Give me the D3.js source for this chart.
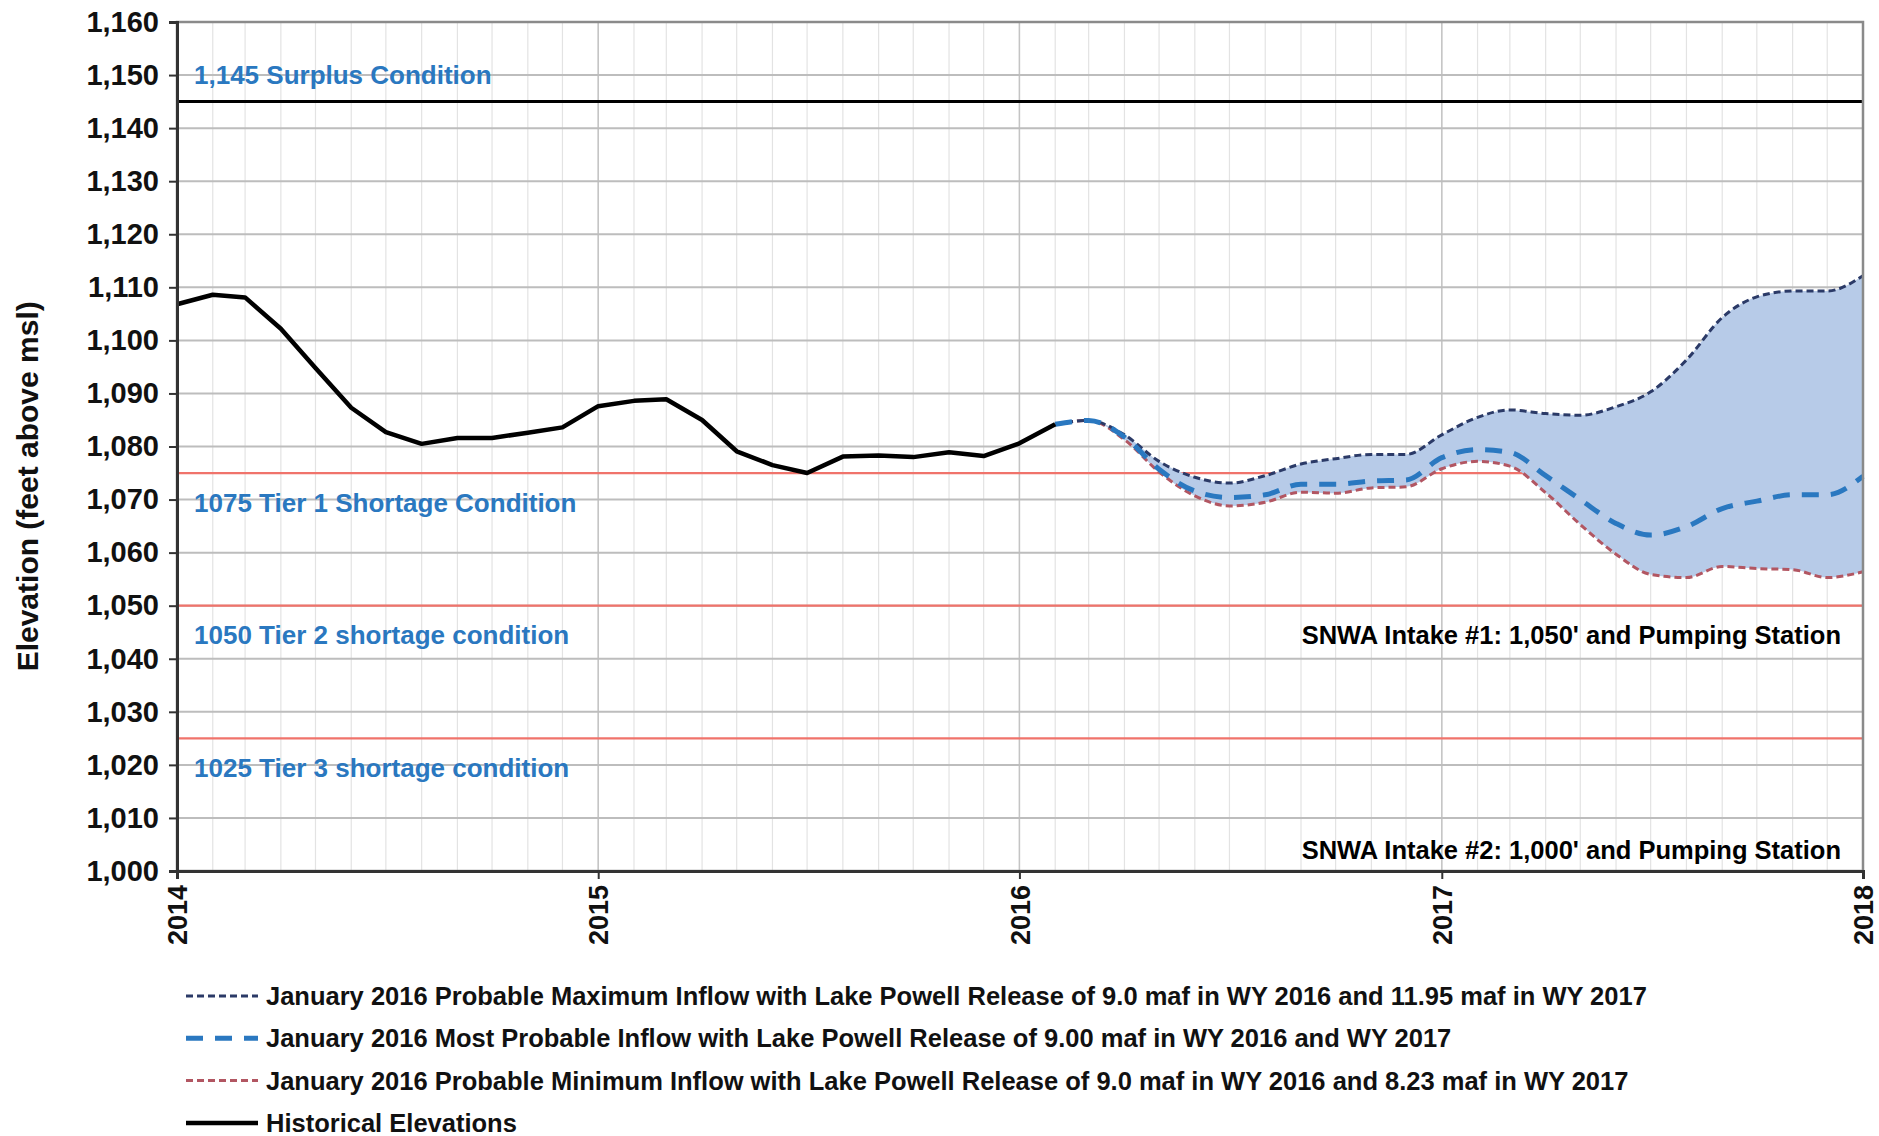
<!DOCTYPE html>
<html>
<head>
<meta charset="utf-8">
<script src="https://cdn.jsdelivr.net/npm/d3@7"></script>
<style>
  body { margin: 0; background: #fff; }
  text { font-family: "Liberation Sans", Arial, sans-serif; font-weight: bold; }
</style>
</head>
<body>
<div id="chart"></div>
<script>
// monthly elevations, feet above msl
var histStart = new Date(2014, 0, 1);
var historical = [1106.8, 1108.6, 1108.1, 1102.2, 1094.8, 1087.3, 1082.7, 1080.5, 1081.6, 1081.6, 1082.6, 1083.6,
                  1087.6, 1088.6, 1088.9, 1085.0, 1079.1, 1076.5, 1075.0, 1078.1, 1078.3, 1078.0, 1078.9, 1078.2,
                  1080.6, 1084.2];

var forecastStart = new Date(2016, 1, 1);
var probMax = [1084.2, 1084.9, 1082.2, 1077.2, 1074.2, 1073.1, 1074.5, 1076.7, 1077.7, 1078.5, 1078.5,
               1082.2, 1085.5, 1086.9, 1086.2, 1085.9, 1087.5, 1090.3, 1096.3, 1104.3, 1108.2, 1109.3, 1109.3, 1112.2];
var mostProb = [1084.2, 1084.9, 1081.8, 1075.7, 1071.6, 1070.4, 1070.9, 1072.9, 1072.9, 1073.5, 1073.7,
                1077.9, 1079.4, 1078.9, 1074.5, 1070.0, 1065.5, 1063.3, 1064.9, 1068.3, 1069.7, 1070.9, 1070.9, 1074.4];
var probMin = [1084.2, 1084.9, 1081.3, 1075.2, 1070.7, 1068.8, 1069.5, 1071.4, 1071.2, 1072.2, 1072.4,
               1075.8, 1077.2, 1076.3, 1071.3, 1065.3, 1059.7, 1055.9, 1055.3, 1057.4, 1057.0, 1056.8, 1055.3, 1056.4];

var yTicks = [1000, 1010, 1020, 1030, 1040, 1050, 1060, 1070, 1080, 1090, 1100, 1110, 1120, 1130, 1140, 1150, 1160];
var xYears = [2014, 2015, 2016, 2017, 2018];

// reference elevations with their labels
var refLines = [
  { value: 1145, color: "#000", label: "1,145 Surplus Condition", labelAt: 1150 },
  { value: 1075, color: "#f0736b", label: "1075 Tier 1 Shortage Condition", labelAt: 1069.5 },
  { value: 1050, color: "#f0736b", label: "1050 Tier 2 shortage condition", labelAt: 1044.5 },
  { value: 1025, color: "#f0736b", label: "1025 Tier 3 shortage condition", labelAt: 1019.5 }
];
var intakeLabels = [
  { label: "SNWA Intake #1: 1,050' and Pumping Station", labelAt: 1044.5 },
  { label: "SNWA Intake #2: 1,000' and Pumping Station", labelAt: 1004 }
];

var legendItems = [
  { label: "January 2016 Probable Maximum Inflow with Lake Powell Release of 9.0 maf in WY 2016 and 11.95 maf in WY 2017", color: "#2b3a67", width: 3, dash: "7,4" },
  { label: "January 2016 Most Probable Inflow with Lake Powell Release of 9.00 maf in WY 2016 and WY 2017", color: "#2a78c0", width: 5, dash: "17,12" },
  { label: "January 2016 Probable Minimum Inflow with Lake Powell Release of 9.0 maf in WY 2016 and 8.23 maf in WY 2017", color: "#b25662", width: 3, dash: "7,4" },
  { label: "Historical Elevations", color: "#000", width: 4.5, dash: null }
];

var W = 1879, H = 1136;
var margin = { top: 22, right: 16, bottom: 265, left: 177 };
var width = W - margin.left - margin.right;
var height = H - margin.top - margin.bottom;

var svg = d3.select("#chart").append("svg")
  .attr("width", W)
  .attr("height", H);

var plot = svg.append("g")
  .attr("transform", "translate(" + margin.left + "," + margin.top + ")");

var x = d3.scaleTime().domain([new Date(2014, 0, 1), new Date(2018, 0, 1)]).range([0, width]);
var y = d3.scaleLinear().domain([1000, 1160]).range([height, 0]);

function monthSeries(start, values) {
  return values.map(function(v, i) { return { date: d3.timeMonth.offset(start, i), value: v }; });
}

// minor monthly grid
plot.append("g")
  .selectAll("line")
  .data(x.ticks(d3.timeMonth.every(1)))
  .enter().append("line")
    .attr("x1", d => x(d)).attr("x2", d => x(d))
    .attr("y1", 0).attr("y2", height)
    .attr("stroke", "#e3e3e3")
    .attr("stroke-width", 1.2);

// year grid
plot.append("g")
  .selectAll("line")
  .data(xYears)
  .enter().append("line")
    .attr("x1", d => x(new Date(d, 0, 1))).attr("x2", d => x(new Date(d, 0, 1)))
    .attr("y1", 0).attr("y2", height)
    .attr("stroke", "#c4c4c4")
    .attr("stroke-width", 1.5);

// horizontal grid
plot.append("g")
  .selectAll("line")
  .data(yTicks)
  .enter().append("line")
    .attr("x1", 0).attr("x2", width)
    .attr("y1", d => y(d)).attr("y2", d => y(d))
    .attr("stroke", "#bdbdbd")
    .attr("stroke-width", 2);

// reference lines
plot.append("g")
  .selectAll("line")
  .data(refLines)
  .enter().append("line")
    .attr("x1", 0).attr("x2", width)
    .attr("y1", d => y(d.value)).attr("y2", d => y(d.value))
    .attr("stroke", d => d.color)
    .attr("stroke-width", d => d.value == 1145 ? 3 : 2.2);

// forecast band
var maxS = monthSeries(forecastStart, probMax);
var minS = monthSeries(forecastStart, probMin);
var band = maxS.map(function(d, i) { return { date: d.date, hi: d.value, lo: minS[i].value }; });

plot.append("path")
  .datum(band)
  .attr("fill", "#b7cbe8")
  .attr("d", d3.area()
    .curve(d3.curveMonotoneX)
    .x(d => x(d.date))
    .y0(d => y(d.lo))
    .y1(d => y(d.hi)));

var smooth = d3.line().curve(d3.curveMonotoneX).x(d => x(d.date)).y(d => y(d.value));

plot.append("path")
  .datum(minS)
  .attr("fill", "none")
  .attr("stroke", legendItems[2].color)
  .attr("stroke-width", legendItems[2].width)
  .attr("stroke-dasharray", legendItems[2].dash)
  .attr("d", smooth);

plot.append("path")
  .datum(maxS)
  .attr("fill", "none")
  .attr("stroke", legendItems[0].color)
  .attr("stroke-width", legendItems[0].width)
  .attr("stroke-dasharray", legendItems[0].dash)
  .attr("d", smooth);

plot.append("path")
  .datum(monthSeries(forecastStart, mostProb))
  .attr("fill", "none")
  .attr("stroke", legendItems[1].color)
  .attr("stroke-width", legendItems[1].width)
  .attr("stroke-dasharray", legendItems[1].dash)
  .attr("d", smooth);

plot.append("path")
  .datum(monthSeries(histStart, historical))
  .attr("fill", "none")
  .attr("stroke", "#000")
  .attr("stroke-width", 4.5)
  .attr("stroke-linejoin", "round")
  .attr("d", d3.line().x(d => x(d.date)).y(d => y(d.value)));

// labels
plot.append("g")
  .selectAll("text")
  .data(refLines)
  .enter().append("text")
    .attr("x", 17)
    .attr("y", d => y(d.labelAt))
    .attr("dy", "0.36em")
    .attr("fill", "#2a78c0")
    .attr("font-size", 26)
    .text(d => d.label);

plot.append("g")
  .selectAll("text")
  .data(intakeLabels)
  .enter().append("text")
    .attr("x", width - 22)
    .attr("y", d => y(d.labelAt))
    .attr("dy", "0.36em")
    .attr("text-anchor", "end")
    .attr("fill", "#000")
    .attr("font-size", 25.5)
    .text(d => d.label);

// frame
plot.append("rect")
  .attr("width", width).attr("height", height)
  .attr("fill", "none")
  .attr("stroke", "#8a8a8a")
  .attr("stroke-width", 2.5);

// axes
var yAxis = plot.append("g")
  .call(d3.axisLeft(y).tickValues(yTicks).tickFormat(d3.format(",")).tickSize(8).tickPadding(10));
yAxis.select(".domain").attr("stroke", "#333").attr("stroke-width", 3);
yAxis.selectAll(".tick line").attr("stroke", "#333").attr("stroke-width", 2);
yAxis.selectAll("text").attr("font-size", 29).attr("fill", "#111");

var xAxis = plot.append("g")
  .attr("transform", "translate(0," + height + ")")
  .call(d3.axisBottom(x).tickValues(xYears.map(d => new Date(d, 0, 1))).tickFormat(d3.timeFormat("%Y")).tickSize(8).tickPadding(10));
xAxis.select(".domain").attr("stroke", "#333").attr("stroke-width", 3);
xAxis.selectAll(".tick line").attr("stroke", "#333").attr("stroke-width", 2);
xAxis.selectAll("text")
  .attr("font-size", 27)
  .attr("fill", "#111")
  .attr("transform", "rotate(-90)")
  .attr("text-anchor", "end")
  .attr("x", -14)
  .attr("y", 0)
  .attr("dy", "0.36em");

svg.append("text")
  .attr("transform", "translate(27," + (margin.top + y(1072.5)) + ") rotate(-90)")
  .attr("text-anchor", "middle")
  .attr("dy", "0.36em")
  .attr("font-size", 30)
  .attr("fill", "#111")
  .text("Elevation (feet above msl)");

// legend
var legend = svg.append("g")
  .attr("transform", "translate(186,996)");

var row = legend.selectAll("g")
  .data(legendItems)
  .enter().append("g")
    .attr("transform", (d, i) => "translate(0," + (i * 42.3) + ")");

row.append("line")
  .attr("x1", 0).attr("x2", 72)
  .attr("stroke", d => d.color)
  .attr("stroke-width", d => d.width)
  .attr("stroke-dasharray", d => d.dash);

row.append("text")
  .attr("x", 80)
  .attr("dy", "0.36em")
  .attr("font-size", 25.5)
  .attr("fill", "#111")
  .text(d => d.label);
</script>
</body>
</html>
